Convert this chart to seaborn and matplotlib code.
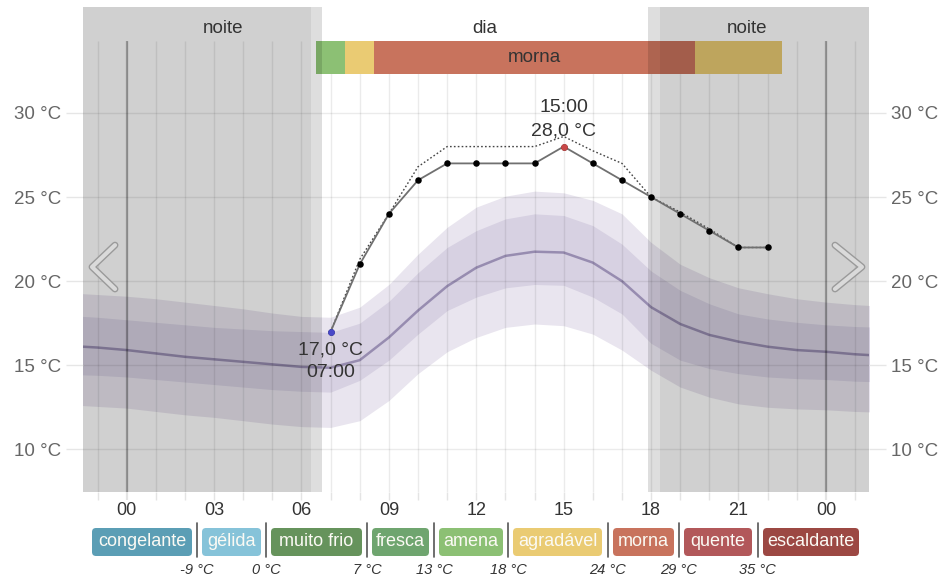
import matplotlib

matplotlib.use("Agg")

import matplotlib.pyplot as plt
from matplotlib.patches import FancyBboxPatch
import numpy as np
import pandas as pd
import seaborn as sns

# hourly climatology percentiles (°C)
HOURS = list(range(-2, 27))
P90 = [19.3, 19.2, 19.1, 18.95, 18.75, 18.55, 18.35, 18.1, 17.9, 17.85, 18.45, 19.8, 21.6,
       23.2, 24.4, 25.05, 25.35, 25.25, 24.8, 24.0, 22.3, 21.0, 20.2, 19.6, 19.25, 18.95,
       18.75, 18.6, 18.5]
P75 = [17.95, 17.85, 17.7, 17.55, 17.4, 17.25, 17.15, 17.05, 17.0, 16.95, 17.5, 18.8, 20.5,
       22.0, 23.0, 23.7, 24.0, 23.9, 23.3, 22.2, 20.6, 19.45, 18.65, 18.05, 17.75, 17.55,
       17.4, 17.3, 17.25]
P50 = [16.15, 16.05, 15.9, 15.7, 15.5, 15.35, 15.2, 15.05, 14.9, 14.85, 15.3, 16.65, 18.25,
       19.7, 20.8, 21.5, 21.75, 21.7, 21.1, 20.0, 18.45, 17.45, 16.8, 16.4, 16.1, 15.9,
       15.8, 15.65, 15.55]
P25 = [14.45, 14.4, 14.3, 14.15, 14.0, 13.85, 13.7, 13.55, 13.45, 13.4, 14.1, 15.3, 16.85,
       18.25, 19.05, 19.6, 19.8, 19.75, 19.05, 18.05, 16.3, 15.3, 14.8, 14.5, 14.3, 14.2,
       14.15, 14.05, 14.0]
P10 = [12.65, 12.55, 12.45, 12.25, 12.05, 11.9, 11.7, 11.5, 11.35, 11.3, 11.7, 12.9, 14.5,
       15.8, 16.65, 17.25, 17.45, 17.35, 16.85, 15.9, 14.7, 13.7, 13.1, 12.7, 12.5, 12.4,
       12.35, 12.25, 12.2]

# hourly forecast (°C)
FORECAST_HOURS = list(range(7, 23))
FORECAST_TEMP = [17, 21, 24, 26, 27, 27, 27, 27, 28, 27, 26, 25, 24, 23, 22, 22]
PREVIOUS_TEMP = [17, 21.3, 24, 26.8, 28, 28, 28, 28, 28.6, 27.75, 27, 25, 24.1, 23.1, 22, 22]

CATEGORIES = ["congelante", "gélida", "muito frio", "fresca", "amena",
              "agradável", "morna", "quente", "escaldante"]
THRESHOLDS = [-9, 0, 7, 13, 18, 24, 29, 35]
CATEGORY_COLORS = ["#5B9EB5", "#86C3D9", "#66935C", "#6FA56F", "#8CC074",
                   "#EACB73", "#C8735D", "#B2585A", "#9C4843"]

DAWN = (6.31, 6.69)
DUSK = (17.88, 18.29)

TEXT = "#333333"
MUTED = "#666666"

sns.set_theme(style="white")
plt.rcParams["font.family"] = ["Liberation Sans", "DejaVu Sans"]

XMIN, XMAX = -1.50, 25.48
YMIN, YMAX = 7.46, 36.30
BAR_LO, BAR_HI = 32.30, 34.28

fig = plt.figure(figsize=(9.44, 5.81), dpi=100)
ax = fig.add_axes([83 / 944, 89 / 581, 786 / 944, 485 / 581])
ax.set_xlim(XMIN, XMAX)
ax.set_ylim(YMIN, YMAX)
for s in ax.spines.values():
    s.set_visible(False)

# percentile bands
ax.fill_between(HOURS, P10, P90, color="#E9E5EF", lw=0, zorder=1)
ax.fill_between(HOURS, P25, P75, color="#D7D1E2", lw=0, zorder=1.1)
clim = pd.DataFrame({"hour": HOURS, "temp": P50})
sns.lineplot(data=clim, x="hour", y="temp", ax=ax, color="#978CB0", lw=1.8, zorder=1.2)

# grid
hour_lines = np.arange(-1, 26)
ax.vlines(hour_lines, YMIN, BAR_HI, color="black", alpha=0.08, lw=1, zorder=2)
ax.vlines([0, 24], YMIN, BAR_HI, color="black", alpha=0.28, lw=1.6, zorder=2)
ax.set_yticks([10, 15, 20, 25, 30])
ax.set_yticklabels([f"{v} °C" for v in [10, 15, 20, 25, 30]])
ax.grid(axis="y", color="black", alpha=0.08, lw=1)
ax.set_axisbelow(False)
ax.xaxis.grid(False)

# top category bar
cat_idx = np.digitize(FORECAST_TEMP, THRESHOLDS)
ax.bar(FORECAST_HOURS, BAR_HI - BAR_LO, bottom=BAR_LO, width=1.0,
       color=[CATEGORY_COLORS[i] for i in cat_idx], lw=0, zorder=2.2)
for c in np.unique(cat_idx):
    hrs = [h for h, i in zip(FORECAST_HOURS, cat_idx) if i == c]
    if len(hrs) >= 6:
        ax.text((min(hrs) + max(hrs)) / 2, (BAR_LO + BAR_HI) / 2, CATEGORIES[c],
                ha="center", va="center", fontsize=13.5, color=TEXT, zorder=6)

# night shading
ax.axvspan(XMIN, DAWN[0], color="black", alpha=0.185, lw=0, zorder=3)
ax.axvspan(DAWN[0], DAWN[1], color="black", alpha=0.13, lw=0, zorder=3)
ax.axvspan(DUSK[0], DUSK[1], color="black", alpha=0.13, lw=0, zorder=3)
ax.axvspan(DUSK[1], XMAX, color="black", alpha=0.185, lw=0, zorder=3)
ax.text(3.3, 35.03, "noite", ha="center", va="center", fontsize=13.5, color=TEXT, zorder=6)
ax.text(12.3, 35.03, "dia", ha="center", va="center", fontsize=13.5, color=TEXT, zorder=6)
ax.text(21.3, 35.03, "noite", ha="center", va="center", fontsize=13.5, color=TEXT, zorder=6)

# forecasts
fc = pd.DataFrame({"hour": FORECAST_HOURS, "temp": FORECAST_TEMP, "prev": PREVIOUS_TEMP})
sns.lineplot(data=fc, x="hour", y="prev", ax=ax, color="#444444", lw=1.0,
             linestyle=(0, (1.2, 1.6)), zorder=4)
sns.lineplot(data=fc, x="hour", y="temp", ax=ax, color="#707070", lw=1.3, zorder=4.1)
sns.scatterplot(data=fc, x="hour", y="temp", ax=ax, color="black", s=22, lw=0, zorder=5)
i_min = int(np.argmin(FORECAST_TEMP))
i_max = int(np.argmax(FORECAST_TEMP))
ax.scatter([FORECAST_HOURS[i_min]], [FORECAST_TEMP[i_min]], color="#4848C8", s=24, lw=0, zorder=5.5)
ax.scatter([FORECAST_HOURS[i_max]], [FORECAST_TEMP[i_max]], color="#C84848", s=24, lw=0, zorder=5.5)


def temp_label(t):
    return f"{t:.1f}".replace(".", ",") + " °C"


for i, offs in ((i_min, (-13, -29.5)), (i_max, (11.3, 27.9))):
    h, t = FORECAST_HOURS[i], FORECAST_TEMP[i]
    ax.annotate(temp_label(t), (h, t), xytext=(0, offs[0]), textcoords="offset points",
                ha="center", va="center", fontsize=14, color=TEXT, zorder=6)
    ax.annotate(f"{h:02d}:00", (h, t), xytext=(0, offs[1]), textcoords="offset points",
                ha="center", va="center", fontsize=14, color=TEXT, zorder=6)

# chevrons
for pts in (([0.0407, 0.0115, 0.0407], [0.509, 0.464, 0.4186]),
            ([0.9567, 0.991, 0.9567], [0.509, 0.464, 0.4186])):
    ax.plot(*pts, transform=ax.transAxes, color="#9A9A9A", lw=5, solid_capstyle="round",
            solid_joinstyle="round", zorder=7)
    ax.plot(*pts, transform=ax.transAxes, color="#DADADA", lw=3, solid_capstyle="round",
            solid_joinstyle="round", zorder=7.1)

# ticks
xt = list(range(-1, 26))
ax.set_xticks(xt)
ax.set_xticklabels([f"{h % 24:02d}" if h % 3 == 0 else "" for h in xt])
ax.tick_params(axis="x", bottom=True, length=6, width=1, color="#E4E4E4", pad=1,
               labelsize=13, labelcolor=TEXT)
for tick, h in zip(ax.xaxis.get_major_ticks(), xt):
    if h % 24 == 0:
        tick.tick1line.set_color("#A0A0A0")
        tick.tick1line.set_markeredgewidth(1.6)
ax.tick_params(axis="y", left=True, right=True, labelleft=True, labelright=True,
               length=12.5, width=1, color="#E6E6E6", pad=3, labelsize=13.5, labelcolor=MUTED)
ax.set_xlabel("")
ax.set_ylabel("")

# legend of categories
lax = fig.add_axes([0, 0, 1, 1])
lax.set_xlim(0, 944)
lax.set_ylim(581, 0)
lax.axis("off")
box_edges = [(92, 192), (202, 261), (271, 362), (372, 429), (439, 503),
             (513, 602), (613, 674), (684, 752), (763, 859)]
for (x0, x1), name, col in zip(box_edges, CATEGORIES, CATEGORY_COLORS):
    lax.add_patch(FancyBboxPatch((x0 + 4, 528 + 4), x1 - x0 - 8, 28 - 8,
                                 boxstyle="round,pad=4", fc=col, ec="none"))
    lax.text((x0 + x1) / 2, 542, name, ha="center", va="center", fontsize=13,
             color="#FBFAF4")
for (a, b), thr in zip(zip(box_edges[:-1], box_edges[1:]), THRESHOLDS):
    sx = (a[1] + b[0]) / 2
    lax.plot([sx, sx], [523, 557], color="#555555", lw=1.2)
    lax.text(sx, 570, f"{thr} °C", ha="center", va="center", fontsize=10.5,
             style="italic", color=TEXT)

fig.savefig("out.png", dpi=100)
